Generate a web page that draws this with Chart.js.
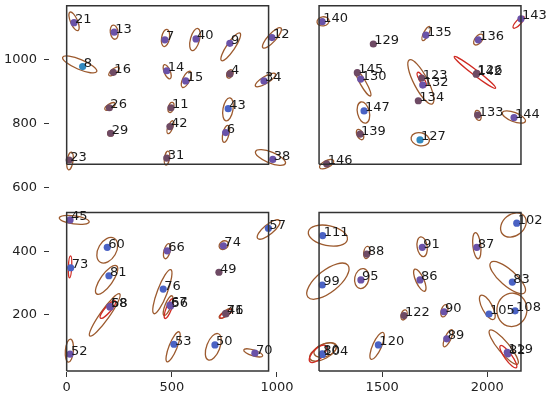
<!DOCTYPE html>
<html>
<head>
<meta charset="utf-8">
<script src="https://cdn.jsdelivr.net/npm/chart.js@4"></script>
<style>
  html, body { margin: 0; padding: 0; background: #fff; }
  #chartCanvas { display: block; }
</style>
</head>
<body>
<canvas id="chartCanvas" width="550" height="398"></canvas>
<script>
// axis ticks
const xTicks = [0, 500, 1000, 1500, 2000];
const yTicks = [200, 400, 600, 800, 1000];

// region boxes
const boxX0 = [0, 1200, 0, 1200];
const boxX1 = [960, 2160, 960, 2160];
const boxY0 = [673, 673, 24, 24];
const boxY1 = [1170, 1170, 521, 521];

// points: id, x, y, group
const ptLabel = ['21','13','7','40','9','12','8','16','14','15','4','34','26','11','43','29','42','6','31','23','38',
  '140','129','135','136','143','145','130','123','132','134','126','142','147','133','144','139','127','146',
  '45','57','60','66','74','73','49','81','76','58','68','67','56','71','46','53','50','70','52',
  '111','102','88','91','87','99','95','86','83','122','90','105','108','89','120','80','104','119','82'];
const ptX = [35,226,467,615,776,976,76,222,476,566,776,938,203,496,768,209,491,756,476,12,980,
  1215,1458,1708,1957,2160,1382,1398,1688,1693,1672,1950,1947,1414,1954,2127,1395,1680,1236,
  16,959,193,478,745,19,724,201,459,206,206,491,494,756,757,510,705,895,16,
  1217,2140,1427,1691,1950,1215,1399,1680,2119,1604,1794,2008,2132,1807,1482,1215,1216,2095,2098];
const ptY = [1117,1087,1063,1066,1052,1070,979,961,966,934,956,934,850,850,847,770,791,772,692,686,688,
  1120,1050,1078,1063,1129,960,940,943,921,872,958,955,840,827,819,767,749,674,
  498,472,412,401,417,348,334,323,281,226,225,231,228,205,203,108,106,80,77,
  449,488,391,412,412,294,310,310,303,198,210,203,213,125,106,78,76,83,78];
const ptGroup = ['p','p','p','p','p','p','t','m','p','p','m','p','m','m','b','m','m','p','m','m','p',
  'p','m','p','p','p','m','p','m','p','m','m','m','b','m','p','m','t','m',
  'p','b','b','p','p','b','m','b','b','p','p','p','p','m','m','b','b','p','p',
  'b','b','m','p','p','b','p','p','b','m','p','b','b','p','b','b','b','p','p'];

// spread ellipses: centre, major semi-axis vector (data units), minor/major ratio, kind
const ellX = [35,226,470,610,780,976,62,225,478,569,776,945,206,496,767,209,493,757,477,16,969,
  1219,1458,1709,1958,2149,1383,1410,1684,1688,1672,1941,1411,1956,2126,1395,1681,1236,
  36,960,193,477,747,16,724,190,455,181,196,482,486,757,757,506,697,887,13,
  1242,2124,1427,1690,1950,1242,1403,1679,2097,1604,1796,2000,2117,1813,1476,1219,1229,1195,2078,2100];
const ellY = [1121,1087,1069,1064,1041,1069,986,964,963,939,956,937,854,851,845,769,789,768,692,683,694,
  1121,1050,1083,1064,1118,957,927,931,939,872,961,835,826,821,766,751,673,
  498,468,403,400,419,351,334,310,273,200,217,229,220,205,204,100,100,81,88,
  449,482,396,414,417,306,314,309,317,200,213,224,216,127,103,84,90,78,99,69];
const ellDx = [19,5,7,14,44,43,81,24,14,19,9.5,47.5,24,7,9.5,14,12,9.5,5,7,71,
  28.5,8,16.6,19,25,8,34.7,54.7,19,6,98.4,12,7,54.7,12,43,33,
  71,52,33,9.5,19,2.4,6,47.5,40,71,35.7,19,19,31,28,28.5,24,45,4.8,
  92.7,52,4.8,7,7,95,9.5,24,81,7,9.5,31,9.5,19,28.5,62,52,38,66.6,38];
const ellDy = [-29,-22,27,34.5,43,31,-22.6,12.5,-22,25,12.5,19,9.4,15.7,36,0,20,26.7,22,28,-19,
  3,0,22,15.7,18,6,-39.8,-69,-22,0,-49.6,-33,-15.7,-14,-15.7,-6.3,11,
  -6.3,28,37.6,23.5,9.4,34.5,0,44,69,66,26.7,31,31,14,12,47,41,-9.4,36,
  -12.5,28,19,-31,-41,50,31,-34.5,-47,15.7,19,-37.6,52,26.7,42,22,12.5,25,-53,-34.5];
const ellRatio = [.35,.55,.45,.4,.25,.3,.27,.4,.4,.4,.65,.3,.45,.5,.43,.9,.35,.35,.35,.33,.34,
  .75,.8,.32,.55,.32,.6,.2,.28,.3,.8,.1,.55,.55,.37,.55,.7,.45,
  .27,.35,.65,.4,.8,.15,.8,.35,.21,.18,.27,.28,.25,.32,.3,.25,.47,.3,.35,
  .5,.75,.5,.5,.3,.43,.7,.33,.35,.55,.5,.37,.9,.32,.3,.47,.55,.45,.25,.26];
const ellKind = ['f','f','f','f','f','f','f','f','f','f','f','f','f','f','f','f','f','f','f','f','f',
  'f','f','f','f','r','f','f','f','r','f','r','f','f','f','f','f','f',
  'f','f','f','f','f','r','f','f','f','f','r','f','r','f','r','f','f','f','f',
  'f','f','f','f','f','f','f','f','f','f','f','f','f','f','f','f','f','r','f','r'];

const groupColors = { b: '#4a62c4', p: '#6a52a8', m: '#6e4a64', t: '#3189c0' };
const ellColors = { f: '#9c5a2e', r: '#d02a22' };

const ellipsePlugin = {
  id: 'ellipses',
  beforeDatasetsDraw(chart) {
    const { ctx, chartArea, scales: { x, y } } = chart;
    ctx.save();
    ctx.beginPath();
    ctx.rect(chartArea.left, chartArea.top, chartArea.width, chartArea.height);
    ctx.clip();
    ctx.lineWidth = 1.3;
    for (let i = 0; i < ellX.length; i++) {
      const cx = x.getPixelForValue(ellX[i]);
      const cy = y.getPixelForValue(ellY[i]);
      const mx = x.getPixelForValue(ellX[i] + ellDx[i]) - cx;
      const my = y.getPixelForValue(ellY[i] + ellDy[i]) - cy;
      const a = Math.hypot(mx, my);
      if (a < 0.5) continue;
      ctx.strokeStyle = ellColors[ellKind[i]];
      ctx.beginPath();
      ctx.ellipse(cx, cy, a, a * ellRatio[i], Math.atan2(my, mx), 0, Math.PI * 2);
      ctx.stroke();
    }
    ctx.restore();
  }
};

const labelPlugin = {
  id: 'pointLabels',
  afterDatasetsDraw(chart) {
    const { ctx, scales: { x, y } } = chart;
    ctx.save();
    ctx.font = '13px "DejaVu Sans"';
    ctx.fillStyle = '#1a1a1a';
    ctx.textAlign = 'left';
    ctx.textBaseline = 'alphabetic';
    for (let i = 0; i < ptLabel.length; i++) {
      ctx.fillText(ptLabel[i], x.getPixelForValue(ptX[i]) + 1, y.getPixelForValue(ptY[i]) + 0.5);
    }
    ctx.restore();
  }
};

const datasets = [];
for (let i = 0; i < boxX0.length; i++) {
  datasets.push({
    type: 'line',
    data: [
      { x: boxX0[i], y: boxY0[i] }, { x: boxX1[i], y: boxY0[i] },
      { x: boxX1[i], y: boxY1[i] }, { x: boxX0[i], y: boxY1[i] },
      { x: boxX0[i], y: boxY0[i] }
    ],
    borderColor: '#333',
    borderWidth: 1.5,
    pointRadius: 0,
    showLine: true,
    fill: false,
    tension: 0
  });
}
datasets.push({
  type: 'scatter',
  data: ptX.map((v, i) => ({ x: v, y: ptY[i] })),
  backgroundColor: ptGroup.map(g => groupColors[g]),
  borderWidth: 0,
  pointRadius: 3.6
});

const tickFont = { family: 'DejaVu Sans', size: 13 };

function noPad(s) {
  s.paddingTop = 0;
  s.paddingBottom = 0;
  s.paddingLeft = 0;
  s.paddingRight = 0;
}

new Chart(document.getElementById('chartCanvas').getContext('2d'), {
  data: { datasets: datasets },
  options: {
    responsive: false,
    animation: false,
    events: [],
    layout: { padding: 0, autoPadding: false },
    plugins: { legend: { display: false }, tooltip: { enabled: false } },
    scales: {
      x: {
        type: 'linear',
        min: -84,
        max: 2298,
        afterBuildTicks: s => { s.ticks = xTicks.map(v => ({ value: v })); },
        afterFit: s => { s.height = 26; noPad(s); },
        border: { display: false },
        grid: { drawOnChartArea: false, drawTicks: true, tickLength: 5, tickColor: '#333' },
        ticks: { font: tickFont, color: '#222', padding: 3, maxRotation: 0, autoSkip: false,
          callback: v => String(v) }
      },
      y: {
        type: 'linear',
        min: 21,
        max: 1188,
        afterBuildTicks: s => { s.ticks = yTicks.map(v => ({ value: v })); },
        afterFit: s => { s.width = 49; noPad(s); },
        border: { display: false },
        grid: { drawOnChartArea: false, drawTicks: true, tickLength: 5, tickColor: '#333' },
        ticks: { font: tickFont, color: '#222', padding: 7, autoSkip: false,
          callback: v => String(v) }
      }
    }
  },
  plugins: [ellipsePlugin, labelPlugin]
});
</script>
</body>
</html>
